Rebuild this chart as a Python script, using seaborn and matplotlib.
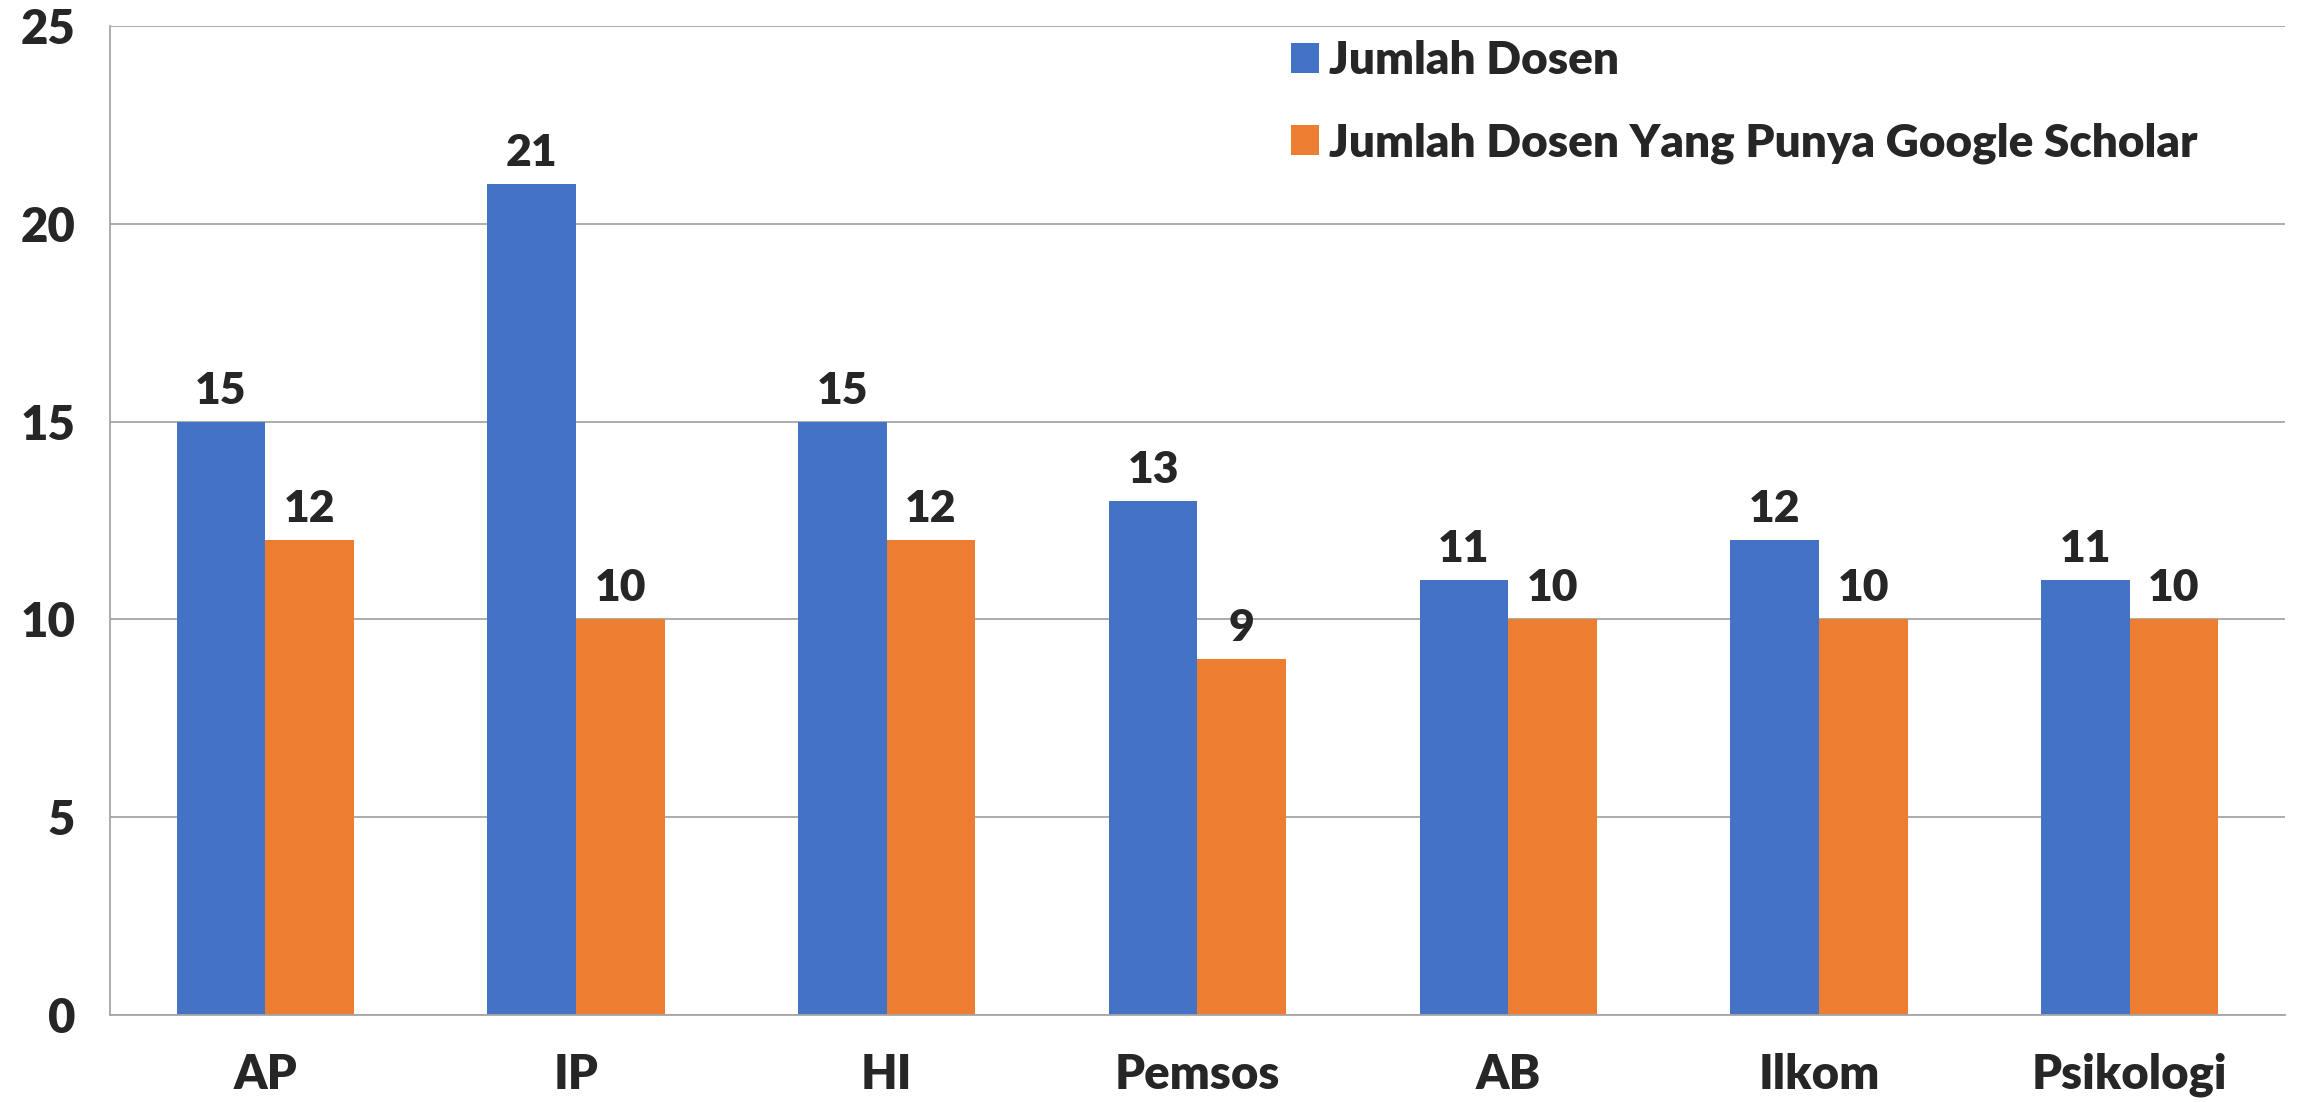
import seaborn as sns
import matplotlib.pyplot as plt
import pandas as pd

# data
prodi = ['AP', 'IP', 'HI', 'Pemsos', 'AB', 'Ilkom', 'Psikologi']
jumlah_dosen = [15, 21, 15, 13, 11, 12, 11]
punya_scholar = [12, 10, 12, 9, 10, 10, 10]
seri = ['Jumlah Dosen', 'Jumlah Dosen Yang Punya Google Scholar']
warna = ['#4472C4', '#ED7D31']

df = pd.DataFrame({
	'Prodi': prodi * 2,
	'Nilai': jumlah_dosen + punya_scholar,
	'Seri': [seri[0]] * len(prodi) + [seri[1]] * len(prodi),
})

sns.set_style('white')
plt.rcParams['font.family'] = ['Lato', 'DejaVu Sans']
plt.rcParams['font.weight'] = 'heavy'

fig = plt.figure(figsize=(23, 11.02), dpi=100)
ax = fig.add_axes([0.0478, 0.0789, 0.9457, 0.8975])

sns.barplot(data=df, x='Prodi', y='Nilai', hue='Seri', hue_order=seri,
	palette=warna, saturation=1, width=0.57, gap=0, linewidth=0, ax=ax)

# label angka di atas batang
for c in ax.containers:
	ax.bar_label(c, fmt='%d', padding=8, fontsize=32, fontweight='heavy')

ax.set_ylim(0, 25)
ax.set_yticks(range(0, 26, 5))
ax.set_xlim(-0.5, len(prodi) - 0.5)
ax.yaxis.grid(True, color='#A6A6A6', linewidth=1.3)
ax.set_axisbelow(True)
ax.set_xlabel('')
ax.set_ylabel('')

for s in ['top', 'right']:
	ax.spines[s].set_visible(False)
for s in ['left', 'bottom']:
	ax.spines[s].set_color('#A6A6A6')
	ax.spines[s].set_linewidth(1.3)

ax.tick_params(axis='y', length=11, width=1.3, color='#A6A6A6', pad=14, labelsize=34)
ax.tick_params(axis='x', length=0, pad=27, labelsize=34)
ax.set_xticks([i - 0.5 for i in range(len(prodi) + 1)], minor=True)
ax.tick_params(axis='x', which='minor', length=12, width=1.3, color='#A6A6A6')
for lab in ax.get_xticklabels() + ax.get_yticklabels():
	lab.set_fontweight('heavy')

handles, labels = ax.get_legend_handles_labels()
ax.legend(handles, labels, loc='upper left', bbox_to_anchor=(1291 / 2300, 1 - 40 / 1102),
	bbox_transform=fig.transFigure, frameon=False,
	handlelength=0.62, handleheight=0.62, handletextpad=0.2, labelspacing=0.9,
	borderpad=0, borderaxespad=0, prop={'weight': 'heavy', 'size': 33})

fig.savefig('out.png', dpi=100)
